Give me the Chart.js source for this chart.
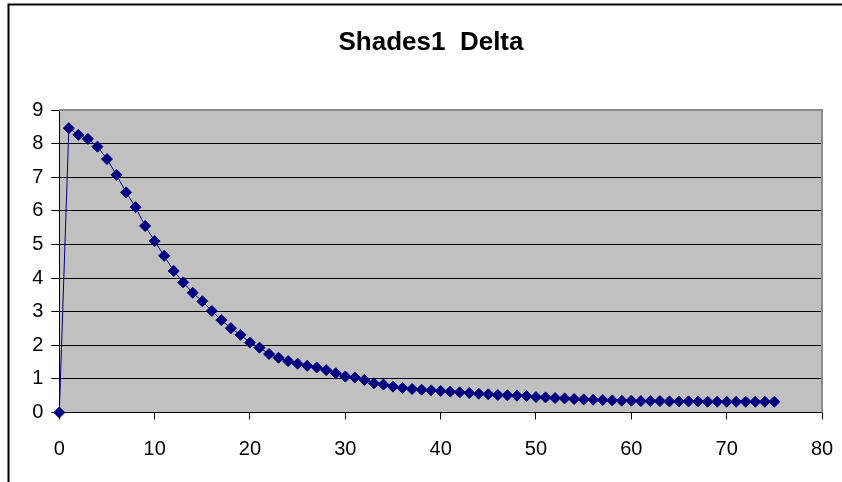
<!DOCTYPE html>
<html>
<head>
<meta charset="utf-8">
<script src="https://cdn.jsdelivr.net/npm/chart.js@4/dist/chart.umd.min.js"></script>
<style>
  html, body { margin: 0; padding: 0; background: #fff; }
  canvas { display: block; }
</style>
</head>
<body>
<canvas id="delta-chart" width="842" height="482"></canvas>
<script>
// values
const chartTitle = 'Shades1  Delta';
const xValues = [];
for (let i = 0; i <= 75; i++)
    xValues.push(i);

const deltaValues = [
    0.00, 8.46, 8.26, 8.14, 7.91, 7.54, 7.07, 6.55, 6.11, 5.55,
    5.10, 4.66, 4.21, 3.87, 3.56, 3.31, 3.02, 2.75, 2.51, 2.31,
    2.08, 1.93, 1.74, 1.63, 1.53, 1.45, 1.39, 1.34, 1.26, 1.17,
    1.07, 1.04, 0.97, 0.87, 0.83, 0.77, 0.73, 0.70, 0.68, 0.66,
    0.64, 0.62, 0.60, 0.58, 0.56, 0.54, 0.52, 0.51, 0.50, 0.49,
    0.46, 0.45, 0.43, 0.42, 0.40, 0.39, 0.38, 0.37, 0.36, 0.35,
    0.35, 0.34, 0.34, 0.34, 0.33, 0.33, 0.33, 0.33, 0.32, 0.32,
    0.32, 0.32, 0.32, 0.32, 0.32, 0.32
];

const xTicks = { min: 0, max: 80, step: 10 };
const yTicks = { min: 0, max: 9, step: 1 };

const points = xValues.map((x, i) => ({ x: x, y: deltaValues[i] }));

const fontFamily = '"Liberation Sans", Arial, sans-serif';

// grey plot area, its grey top/right edge, and the outer chart border
const plotFrame = {
    id: 'plotFrame',
    beforeDraw(chart) {
        const { ctx, chartArea: a } = chart;
        ctx.save();
        ctx.fillStyle = '#c0c0c0';
        ctx.fillRect(a.left, a.top, a.right - a.left, a.bottom - a.top);
        ctx.restore();
    },
    beforeDatasetsDraw(chart) {
        const { ctx, chartArea: a } = chart;
        ctx.save();
        ctx.strokeStyle = '#8a8a8a';
        ctx.lineWidth = 2;
        ctx.beginPath();
        ctx.moveTo(a.left, a.top);
        ctx.lineTo(a.right, a.top);
        ctx.lineTo(a.right, a.bottom);
        ctx.stroke();
        ctx.restore();
    },
    afterDraw(chart) {
        const ctx = chart.ctx;
        ctx.save();
        ctx.strokeStyle = '#000';
        ctx.lineWidth = 2;
        ctx.beginPath();
        ctx.moveTo(8.5, chart.height);
        ctx.lineTo(8.5, 4.5);
        ctx.lineTo(chart.width, 4.5);
        ctx.stroke();
        ctx.restore();
    }
};

const config = {
    type: 'scatter',
    data: {
        datasets: [{
            label: 'Delta',
            data: points,
            showLine: true,
            clip: false,
            borderColor: '#000080',
            borderWidth: 1,
            backgroundColor: '#000080',
            pointStyle: 'rectRot',
            pointRadius: 5.5,
            pointBorderColor: '#000080',
            pointBackgroundColor: '#000080',
            pointBorderWidth: 1,
        }]
    },
    options: {
        responsive: false,
        animation: false,
        events: [],
        layout: {
            padding: { left: 20, right: 0, top: 0, bottom: 0 }
        },
        plugins: {
            legend: { display: false },
            tooltip: { enabled: false },
            title: {
                display: true,
                text: chartTitle,
                color: '#000',
                font: { family: fontFamily, size: 26, weight: 'bold', lineHeight: 1.2 },
                padding: { top: 27, bottom: 51.8 }
            }
        },
        scales: {
            x: {
                type: 'linear',
                min: xTicks.min,
                max: xTicks.max,
                ticks: {
                    stepSize: xTicks.step,
                    color: '#000',
                    padding: 18,
                    maxRotation: 0,
                    font: { family: fontFamily, size: 20 }
                },
                grid: {
                    drawOnChartArea: false,
                    drawTicks: true,
                    tickLength: 7,
                    color: '#000',
                    lineWidth: 1
                },
                border: { display: true, color: '#000', width: 1 },
                afterFit: (scale) => {
                    scale.height = 69.5;
                    scale.paddingRight = 20;
                }
            },
            y: {
                min: yTicks.min,
                max: yTicks.max,
                ticks: {
                    stepSize: yTicks.step,
                    color: '#000',
                    padding: 8,
                    font: { family: fontFamily, size: 20 }
                },
                grid: {
                    drawTicks: true,
                    tickLength: 8,
                    color: (ctx) => (ctx.tick && ctx.tick.value === yTicks.max && ctx.type !== 'tick') ? 'rgba(0,0,0,0)' : '#000',
                    tickColor: '#000',
                    lineWidth: 1
                },
                border: { display: true, color: '#000', width: 1 },
                afterFit: (scale) => {
                    scale.width = 39.3;
                }
            }
        }
    },
    plugins: [plotFrame]
};

const chart = new Chart(document.getElementById('delta-chart'), config);
</script>
</body>
</html>
